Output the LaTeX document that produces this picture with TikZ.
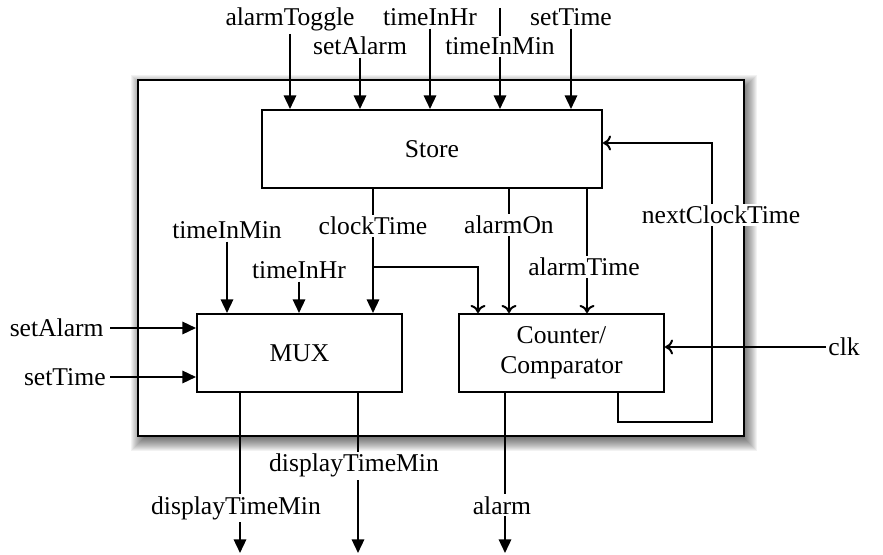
\documentclass[tikz,border=0pt]{standalone}
\usepackage{fontspec}
\setmainfont{Liberation Serif}
\usetikzlibrary{arrows.meta}

\begin{document}
\begin{tikzpicture}[x=0.5pt,y=-0.5pt,
  wire/.style={line width=1pt},
  sig/.style={wire,-{Triangle[length=6.8pt,width=6.2pt]}},
  fb/.style={wire,-{Computer Modern Rightarrow[length=4pt,width=7.5pt]}},
  lbl/.style={font=\fontsize{12.8}{15}\selectfont, inner sep=1pt},
  tag/.style={lbl, fill=white},
  block/.style={draw, line width=1pt, fill=white, inner sep=0pt,
    font=\fontsize{12.8}{15}\selectfont, align=center},
]
\useasboundingbox (0,0) rectangle (883,555);

% soft shadow of the chip outline
\foreach \d in {-6,...,10}
  \fill[black,opacity=0.05] (141-\d,85-\d) rectangle (747+\d,441+\d);
\node[draw, fill=white, line width=1.2pt, minimum width=303pt, minimum height=178pt, inner sep=0pt]
  (chip) at (441,258) {};

% functional blocks
\node[block, minimum width=170pt, minimum height=39pt] (store) at (432,149) {Store};
\node[block, minimum width=102.5pt, minimum height=39pt] (mux) at (299.5,353) {MUX};
\node[block, minimum width=102.5pt, minimum height=39pt] (ctr) at (561.5,353) {Counter/\\Comparator};

% inputs to the store
\node[lbl, anchor=base] (inA) at (290,26) {alarmToggle};
\node[lbl, anchor=base] (inB) at (360,55) {setAlarm};
\node[lbl, anchor=base] (inC) at (430,26) {timeInHr};
\coordinate (tickD) at (500,8);
\node[lbl, anchor=base] (inE) at (571,26) {setTime};
\draw[sig] (inA.south) -- (inA.south |- store.north);
\draw[sig] (inB.south) -- (inB.south |- store.north);
\draw[sig] (inC.south) -- (inC.south |- store.north);
\draw[sig] (tickD) -- (tickD |- store.north);
\draw[sig] (inE.south) -- (inE.south |- store.north);
\node[tag, anchor=base] (inD) at (500,55) {timeInMin};

% store outputs
\coordinate (ckX) at (373,0);
\coordinate (onX) at (509,0);
\coordinate (atX) at (587,0);
\coordinate (br) at (373,267);
\coordinate (brX) at (478,267);
\draw[sig] (store.south -| ckX) -- (mux.north -| ckX);
\draw[fb] (br) -- (brX) -- (brX |- ctr.north);
\draw[fb] (store.south -| onX) -- (ctr.north -| onX);
\draw[fb] (store.south -| atX) -- (ctr.north -| atX);
\node[tag, anchor=base] (ckT) at (373,235) {clockTime};
\node[tag, anchor=base] (onT) at (509,234) {alarmOn};
\node[tag, anchor=base] (atT) at (584,276) {alarmTime};

% extra inputs to the multiplexer
\node[lbl, anchor=base] (mA) at (227,239) {timeInMin};
\node[lbl, anchor=base] (mB) at (299,279) {timeInHr};
\draw[sig] (mA.south) -- (mA.south |- mux.north);
\draw[sig] (mB.south) -- (mB.south |- mux.north);

\node[lbl, anchor=east] (sa) at (106,328) {setAlarm};
\node[lbl, anchor=east] (st) at (108,377) {setTime};
\draw[sig] ([xshift=2pt]sa.east) -- (mux.west |- sa.east);
\draw[sig] ([xshift=1pt]st.east) -- (mux.west |- st.east);

% feedback of the next clock time
\coordinate (fbA) at (618,422);
\coordinate (fbB) at (712,422);
\coordinate (fbC) at (712,143);
\draw[fb] (ctr.south -| fbA) -- (fbA) -- (fbB) -- (fbC) -- (store.east |- fbC);
\node[tag, anchor=base] (fbT) at (721,224) {nextClockTime};

% clock input
\node[lbl, anchor=west] (clk) at (826,347) {clk};
\draw[fb] (clk.west) -- (ctr.east |- clk.west);

% outputs
\coordinate (o1) at (240,553);
\coordinate (o2) at (358,553);
\coordinate (o3) at (505,553);
\draw[sig] (mux.south -| o1) -- (o1);
\draw[sig] (mux.south -| o2) -- (o2);
\draw[sig] (ctr.south -| o3) -- (o3);
\node[tag, anchor=base] (o1T) at (236,514) {displayTimeMin};
\node[tag, anchor=base] (o2T) at (354,472) {displayTimeMin};
\node[tag, anchor=base] (o3T) at (502,514) {alarm};
\end{tikzpicture}
\end{document}
